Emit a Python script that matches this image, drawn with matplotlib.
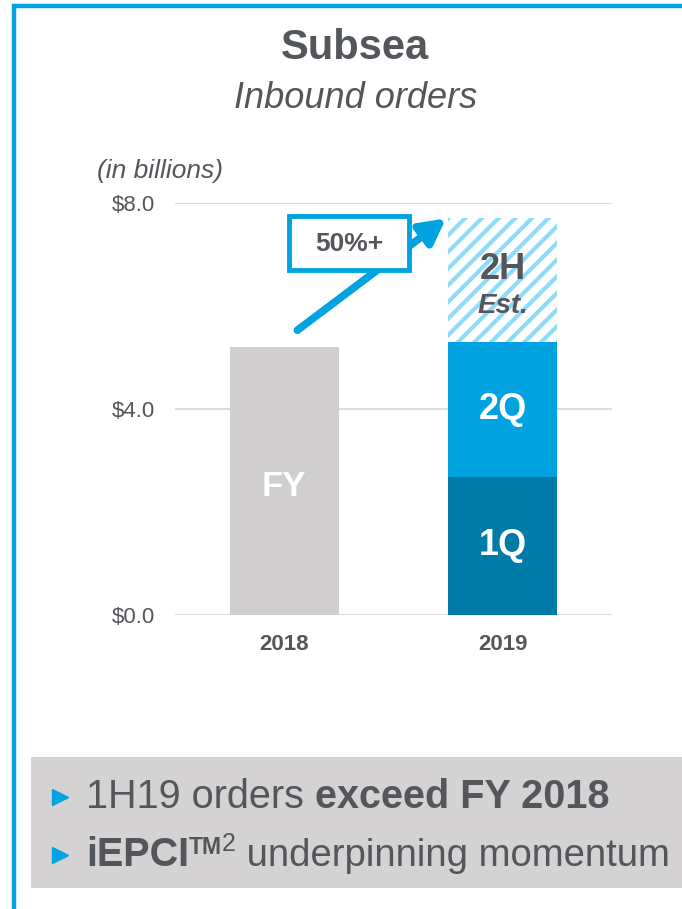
import numpy as np
import matplotlib.pyplot as plt
from matplotlib.patches import Rectangle

plt.rcParams['font.family'] = ['Liberation Sans', 'DejaVu Sans']
plt.rcParams['hatch.linewidth'] = 3.0

years = ["2018", "2019"]
fy_2018 = [5.2]
q1_2019 = [2.68]
q2_2019 = [2.62]
h2_est_2019 = [2.4]
yticks = [0.0, 4.0, 8.0]

grey_txt = "#53565A"
blue = "#00A3E0"
dark_blue = "#007BA7"
light_blue = "#8EDCFA"
bar_grey = "#D0CECE"

fig = plt.figure(figsize=(6.82, 9.09), dpi=100)

# overlay in pixel coordinates for frame and text panel
ov = fig.add_axes([0, 0, 1, 1])
ov.set_xlim(0, 682)
ov.set_ylim(909, 0)
ov.axis("off")
ov.plot([13.5, 13.5], [4, 909], color=blue, lw=3.2, solid_capstyle="butt")
ov.plot([12, 682], [5.5, 5.5], color=blue, lw=3.2, solid_capstyle="butt")
ov.add_patch(Rectangle((31, 757), 651, 131, color="#D4D2D3", lw=0))

ov.text(355, 48, "Subsea", ha="center", va="center", fontsize=30,
        fontweight="bold", color=grey_txt)
ov.text(356, 98, "Inbound orders", ha="center", va="center", fontsize=26,
        style="italic", color=grey_txt)
ov.text(160, 171, "(in billions)", ha="center", va="center", fontsize=19,
        style="italic", color=grey_txt)

ax = fig.add_axes([175 / 682, 1 - 615 / 909, 437 / 682, 412 / 909])
ax.set_zorder(2)
ax.patch.set_visible(False)
x = np.arange(len(years))
ax.bar(x[0], fy_2018, width=0.5, color=bar_grey)
ax.bar(x[1], q1_2019, width=0.5, color=dark_blue)
ax.bar(x[1], q2_2019, width=0.5, bottom=q1_2019, color=blue)
ax.bar(x[1], h2_est_2019, width=0.5, bottom=np.add(q1_2019, q2_2019),
       color="white", edgecolor=light_blue, hatch="//", lw=0)

ax.set_xlim(-0.5, 1.5)
ax.set_ylim(0, 8)
ax.set_yticks(yticks)
ax.set_yticklabels(["${:.1f}".format(v) for v in yticks], fontsize=16,
                   color=grey_txt)
ax.set_xticks(x)
ax.set_xticklabels(years, fontsize=16, fontweight="bold", color=grey_txt)
ax.tick_params(length=0, pad=14, axis="y")
ax.tick_params(length=0, pad=14, axis="x")
ax.grid(axis="y", color="#DDDDDD", lw=1.5)
ax.set_axisbelow(True)
for s in ax.spines.values():
    s.set_visible(False)

ax.text(x[0], fy_2018[0] / 2 - 0.1, "FY", ha="center", va="center",
        fontsize=25, fontweight="bold", color="white")
ax.text(x[1], q1_2019[0] / 2, "1Q", ha="center", va="center",
        fontsize=26, fontweight="bold", color="white")
ax.text(x[1], q1_2019[0] + q2_2019[0] / 2, "2Q", ha="center", va="center",
        fontsize=26, fontweight="bold", color="white")
top = q1_2019[0] + q2_2019[0]
ax.text(x[1], top + 1.4, "2H", ha="center", va="center",
        fontsize=26, fontweight="bold", color=grey_txt)
ax.text(x[1], top + 0.7, "Est.", ha="center", va="center",
        fontsize=20, fontweight="bold", style="italic", color=grey_txt)

ax.annotate("", xy=(0.74, 7.7), xytext=(0.06, 5.53),
            arrowprops=dict(arrowstyle="-|>,head_length=1.5,head_width=0.8",
                            color=blue, lw=5.5, shrinkA=0, shrinkB=0))

# "50%+" call-out box on top of the arrow
fig.canvas.draw()
rend = fig.canvas.get_renderer()
inv = ov.transData.inverted()
box = fig.add_axes([0, 0, 1, 1])
box.set_zorder(3)
box.set_xlim(0, 682)
box.set_ylim(909, 0)
box.axis("off")
box.add_patch(Rectangle((289, 216), 120, 54, fc="white", ec=blue, lw=3.5))
box.text(349, 244, "50%+", ha="center", va="center", fontsize=19,
         fontweight="bold", color=grey_txt)


def run(pieces, x0, yb):
    xx = x0
    for txt, kw in pieces:
        dy = kw.pop("dy", 0)
        t = ov.text(xx, yb - dy, txt, va="baseline", ha="left",
                    color=grey_txt, **kw)
        bb = t.get_window_extent(rend)
        xx = inv.transform((bb.x1, bb.y0))[0]
    return xx


for yb in [808, 866]:
    ov.plot(60, yb - 11, marker=">", ms=11, color=blue, mec=blue)

run([("1H19 orders ", dict(fontsize=28.5)),
     ("exceed FY 2018", dict(fontsize=28.5, fontweight="bold"))], 86, 808)
run([("iEPCI", dict(fontsize=28.5, fontweight="bold")),
     ("TM", dict(fontsize=16.5, fontweight="bold", dy=12)),
     ("2", dict(fontsize=18, dy=15)),
     (" underpinning momentum", dict(fontsize=27.5))], 86, 866)

fig.savefig("out.png", dpi=100)
